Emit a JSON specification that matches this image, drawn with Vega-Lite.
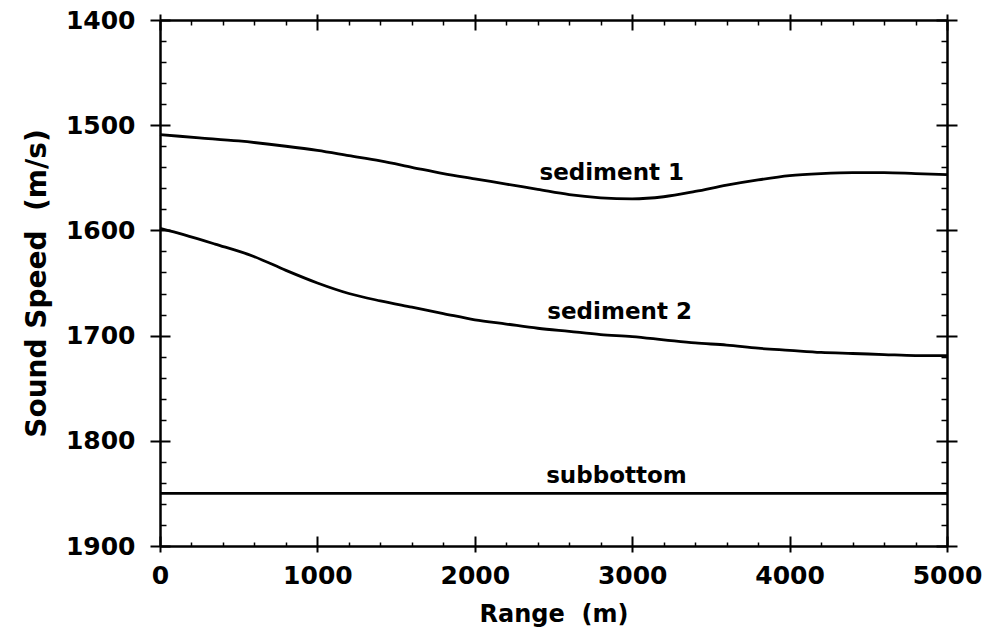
{
  "$schema": "https://vega.github.io/schema/vega-lite/v6.json",
  "width": 787,
  "height": 526,
  "autosize": {"type": "none"},
  "padding": {"left": 160, "top": 20, "right": 42, "bottom": 93},
  "background": "white",
  "config": {
    "view": {"stroke": null},
    "font": "DejaVu Sans",
    "axis": {
      "grid": false,
      "format": "d",
      "domainColor": "black",
      "domainWidth": 2.5,
      "tickColor": "black",
      "tickWidth": 2,
      "labelColor": "black",
      "labelFont": "DejaVu Sans",
      "labelFontWeight": "bold",
      "labelFontSize": 25,
      "titleColor": "black",
      "titleFont": "DejaVu Sans",
      "titleFontWeight": "bold",
      "titleFontSize": 24
    }
  },
  "datasets": {
    "profiles": [
      {"range": 0, "speed": 1509, "layer": "sediment 1"},
      {"range": 250, "speed": 1512, "layer": "sediment 1"},
      {"range": 500, "speed": 1515, "layer": "sediment 1"},
      {"range": 800, "speed": 1520, "layer": "sediment 1"},
      {"range": 1000, "speed": 1524, "layer": "sediment 1"},
      {"range": 1200, "speed": 1529, "layer": "sediment 1"},
      {"range": 1400, "speed": 1534, "layer": "sediment 1"},
      {"range": 1600, "speed": 1540, "layer": "sediment 1"},
      {"range": 1800, "speed": 1546, "layer": "sediment 1"},
      {"range": 2000, "speed": 1551, "layer": "sediment 1"},
      {"range": 2200, "speed": 1556, "layer": "sediment 1"},
      {"range": 2400, "speed": 1561, "layer": "sediment 1"},
      {"range": 2600, "speed": 1566, "layer": "sediment 1"},
      {"range": 2800, "speed": 1569, "layer": "sediment 1"},
      {"range": 3000, "speed": 1570, "layer": "sediment 1"},
      {"range": 3200, "speed": 1568, "layer": "sediment 1"},
      {"range": 3400, "speed": 1563, "layer": "sediment 1"},
      {"range": 3600, "speed": 1557, "layer": "sediment 1"},
      {"range": 3800, "speed": 1552, "layer": "sediment 1"},
      {"range": 4000, "speed": 1548, "layer": "sediment 1"},
      {"range": 4200, "speed": 1546, "layer": "sediment 1"},
      {"range": 4400, "speed": 1545, "layer": "sediment 1"},
      {"range": 4600, "speed": 1545, "layer": "sediment 1"},
      {"range": 4800, "speed": 1546, "layer": "sediment 1"},
      {"range": 5000, "speed": 1547, "layer": "sediment 1"},
      {"range": 0, "speed": 1598, "layer": "sediment 2"},
      {"range": 150, "speed": 1604, "layer": "sediment 2"},
      {"range": 350, "speed": 1613, "layer": "sediment 2"},
      {"range": 600, "speed": 1625, "layer": "sediment 2"},
      {"range": 800, "speed": 1638, "layer": "sediment 2"},
      {"range": 1000, "speed": 1650, "layer": "sediment 2"},
      {"range": 1200, "speed": 1660, "layer": "sediment 2"},
      {"range": 1400, "speed": 1667, "layer": "sediment 2"},
      {"range": 1600, "speed": 1673, "layer": "sediment 2"},
      {"range": 1800, "speed": 1679, "layer": "sediment 2"},
      {"range": 2000, "speed": 1685, "layer": "sediment 2"},
      {"range": 2200, "speed": 1689, "layer": "sediment 2"},
      {"range": 2400, "speed": 1693, "layer": "sediment 2"},
      {"range": 2600, "speed": 1696, "layer": "sediment 2"},
      {"range": 2800, "speed": 1699, "layer": "sediment 2"},
      {"range": 3000, "speed": 1701, "layer": "sediment 2"},
      {"range": 3200, "speed": 1704, "layer": "sediment 2"},
      {"range": 3400, "speed": 1707, "layer": "sediment 2"},
      {"range": 3600, "speed": 1709, "layer": "sediment 2"},
      {"range": 3800, "speed": 1712, "layer": "sediment 2"},
      {"range": 4000, "speed": 1714, "layer": "sediment 2"},
      {"range": 4200, "speed": 1716, "layer": "sediment 2"},
      {"range": 4400, "speed": 1717, "layer": "sediment 2"},
      {"range": 4600, "speed": 1718, "layer": "sediment 2"},
      {"range": 4800, "speed": 1719, "layer": "sediment 2"},
      {"range": 5000, "speed": 1719, "layer": "sediment 2"},
      {"range": 0, "speed": 1850, "layer": "subbottom"},
      {"range": 2500, "speed": 1850, "layer": "subbottom"},
      {"range": 5000, "speed": 1850, "layer": "subbottom"}
    ],
    "labels": [
      {"range": 2870, "speed": 1545, "label": "sediment 1"},
      {"range": 2920, "speed": 1678, "label": "sediment 2"},
      {"range": 2900, "speed": 1833, "label": "subbottom"}
    ]
  },
  "resolve": {"axis": {"x": "independent", "y": "independent"}},
  "layer": [
    {
      "data": {"name": "profiles"},
      "mark": {"type": "line", "stroke": "black", "strokeWidth": 2.8, "interpolate": "monotone"},
      "encoding": {
        "x": {
          "field": "range", "type": "quantitative",
          "scale": {"domain": [0, 5000], "nice": false, "zero": false},
          "axis": {"orient": "bottom", "values": [0, 1000, 2000, 3000, 4000, 5000], "tickSize": 6, "labelPadding": 11, "labelFlush": false, "title": "Range \u00a0(m)", "titlePadding": 14}
        },
        "y": {
          "field": "speed", "type": "quantitative",
          "scale": {"domain": [1400, 1900], "nice": false, "zero": false, "reverse": true},
          "axis": {"orient": "left", "values": [1400, 1500, 1600, 1700, 1800, 1900], "tickSize": 10, "labelPadding": 15, "labelFlush": false, "title": "Sound Speed \u00a0(m/s)", "titleFontSize": 28, "titlePadding": 14}
        },
        "detail": {"field": "layer"}
      }
    },
    {
      "data": {"name": "profiles"},
      "mark": {"type": "line", "opacity": 0},
      "encoding": {
        "x": {"field": "range", "type": "quantitative", "axis": {"orient": "bottom", "values": [0, 1000, 2000, 3000, 4000, 5000], "tickSize": -10, "labels": false, "domain": false, "title": null}},
        "y": {"field": "speed", "type": "quantitative", "axis": {"orient": "left", "values": [1400, 1500, 1600, 1700, 1800, 1900], "tickSize": -10, "labels": false, "domain": false, "title": null}},
        "detail": {"field": "layer"}
      }
    },
    {
      "data": {"name": "profiles"},
      "mark": {"type": "line", "opacity": 0},
      "encoding": {
        "x": {"field": "range", "type": "quantitative", "axis": {"orient": "bottom", "values": [200, 400, 600, 800, 1200, 1400, 1600, 1800, 2200, 2400, 2600, 2800, 3200, 3400, 3600, 3800, 4200, 4400, 4600, 4800], "tickSize": -4, "tickWidth": 1.5, "labels": false, "domain": false, "title": null}},
        "y": {"field": "speed", "type": "quantitative", "axis": {"orient": "left", "values": [1420, 1440, 1460, 1480, 1520, 1540, 1560, 1580, 1620, 1640, 1660, 1680, 1720, 1740, 1760, 1780, 1820, 1840, 1860, 1880], "tickSize": -6, "tickWidth": 1.5, "labels": false, "domain": false, "title": null}},
        "detail": {"field": "layer"}
      }
    },
    {
      "data": {"name": "profiles"},
      "mark": {"type": "line", "opacity": 0},
      "encoding": {
        "x": {"field": "range", "type": "quantitative", "axis": {"orient": "top", "values": [0, 1000, 2000, 3000, 4000, 5000], "tickSize": 6, "labels": false, "domain": true, "title": null}},
        "y": {"field": "speed", "type": "quantitative", "axis": {"orient": "right", "values": [1400, 1500, 1600, 1700, 1800, 1900], "tickSize": 10, "labels": false, "domain": true, "title": null}},
        "detail": {"field": "layer"}
      }
    },
    {
      "data": {"name": "profiles"},
      "mark": {"type": "line", "opacity": 0},
      "encoding": {
        "x": {"field": "range", "type": "quantitative", "axis": {"orient": "top", "values": [0, 1000, 2000, 3000, 4000, 5000], "tickSize": -10, "labels": false, "domain": false, "title": null}},
        "y": {"field": "speed", "type": "quantitative", "axis": {"orient": "right", "values": [1400, 1500, 1600, 1700, 1800, 1900], "tickSize": -11, "labels": false, "domain": false, "title": null}},
        "detail": {"field": "layer"}
      }
    },
    {
      "data": {"name": "profiles"},
      "mark": {"type": "line", "opacity": 0},
      "encoding": {
        "x": {"field": "range", "type": "quantitative", "axis": {"orient": "top", "values": [200, 400, 600, 800, 1200, 1400, 1600, 1800, 2200, 2400, 2600, 2800, 3200, 3400, 3600, 3800, 4200, 4400, 4600, 4800], "tickSize": -5, "tickWidth": 1.5, "labels": false, "domain": false, "title": null}},
        "y": {"field": "speed", "type": "quantitative", "axis": {"orient": "right", "values": [1420, 1440, 1460, 1480, 1520, 1540, 1560, 1580, 1620, 1640, 1660, 1680, 1720, 1740, 1760, 1780, 1820, 1840, 1860, 1880], "tickSize": -6, "tickWidth": 1.5, "labels": false, "domain": false, "title": null}},
        "detail": {"field": "layer"}
      }
    },
    {
      "data": {"name": "labels"},
      "mark": {"type": "text", "font": "DejaVu Sans", "fontWeight": "bold", "fontSize": 23, "align": "center", "baseline": "middle", "color": "black"},
      "encoding": {
        "x": {"field": "range", "type": "quantitative", "axis": null},
        "y": {"field": "speed", "type": "quantitative", "axis": null},
        "text": {"field": "label"}
      }
    }
  ]
}
